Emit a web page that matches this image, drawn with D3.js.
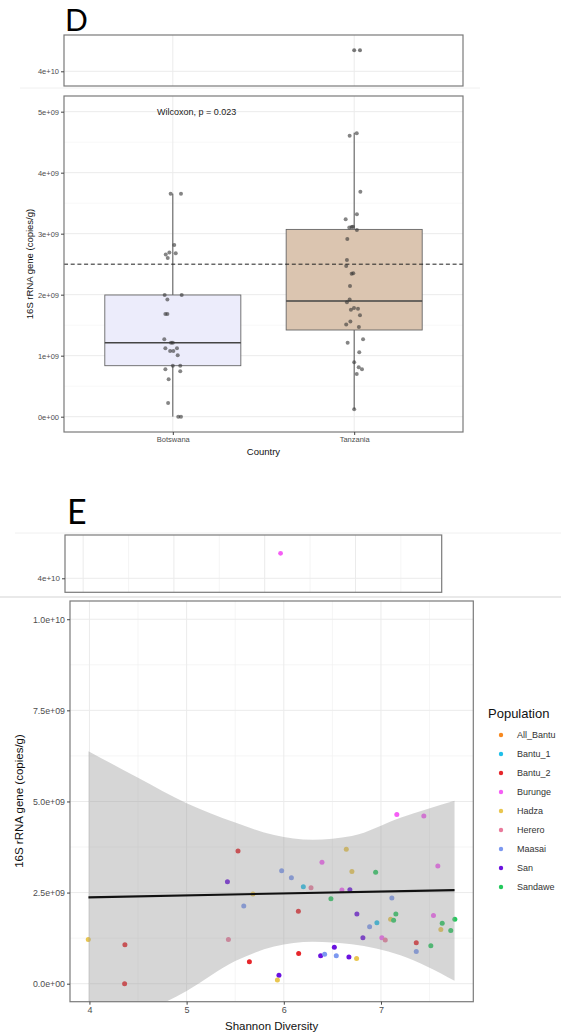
<!DOCTYPE html>
<html>
<head>
<meta charset="utf-8">
<script src="https://cdn.jsdelivr.net/npm/d3@7.9.0/dist/d3.min.js"></script>
<style>
  html, body { margin: 0; padding: 0; background: #fff; }
  svg { display: block; font-family: 'Liberation Sans', Arial, sans-serif; }
</style>
</head>
<body>
<svg id="chart" width="561" height="1034"></svg>
<script>
// ---------- panel D : 16S copies by country ----------
const countries = ['Botswana', 'Tanzania'];
const boxQ1 = [0.836e9, 1.421e9];
const boxMedian = [1.213e9, 1.897e9];
const boxQ3 = [1.995e9, 3.07e9];
const whiskerLow = [0, 0.12e9];
const whiskerHigh = [3.656e9, 4.656e9];
const boxFill = ['#ececfb', '#dbc5b0'];

const botswanaValues = [3.656, 3.656, 2.815, 2.66, 2.69, 2.68, 2.60, 1.995, 1.995, 1.92, 1.684, 1.684,
  1.27, 1.213, 1.213, 1.12, 1.077, 1.077, 1.12, 1.006, 0.836, 0.836, 0.777, 0.744, 0.613, 0.225, 0, 0];
const botswanaJitter = [-0.012, 0.045, 0.008, -0.039, -0.019, 0.016, -0.028, -0.045, 0.049, -0.03, -0.041, -0.03,
  -0.047, -0.01, 0, -0.041, -0.015, 0.003, 0.023, 0.027, 0, 0.041, -0.041, 0.041, -0.023, -0.026, 0.03, 0.045];
const tanzaniaValues = [43.5, 43.5, 4.607, 4.646, 3.689, 3.236, 3.32, 3.1, 3.11, 3.115, 3.06, 2.913, 2.57, 2.47,
  2.345, 2.35, 2.143, 1.92, 1.876, 1.755, 1.78, 1.77, 1.663, 1.56, 1.51, 1.47, 1.27, 1.213, 1.056, 0.892,
  0.81, 0.777, 0.70, 0.12];
const tanzaniaJitter = [0, 0.032, -0.025, 0.014, 0.034, -0.047, 0.015, -0.027, -0.014, -0.007, 0.015, -0.038, -0.04, -0.044,
  -0.014, -0.005, -0.023, -0.025, -0.04, -0.018, -0.001, 0.021, 0.032, -0.021, -0.044, 0.026, 0.049, -0.036, 0.028, 0,
  0.025, 0.043, 0.014, 0];
const thresholdD = 2.5e9;
const dTicks = [0, 1e9, 2e9, 3e9, 4e9, 5e9];
const dMinor = [0.5e9, 1.5e9, 2.5e9, 3.5e9, 4.5e9];
const breakTicks = [4e10];

// ---------- panel E : 16S copies vs Shannon diversity ----------
const populations = ['All_Bantu', 'Bantu_1', 'Bantu_2', 'Burunge', 'Hadza', 'Herero', 'Maasai', 'San', 'Sandawe'];
const popColors = ['#f7891f', '#1fbfe9', '#e6262b', '#f55ef5', '#e9c64f', '#e97a9c', '#7c98f0', '#6b12df', '#23c95c'];

const samplePop = ['Bantu_2', 'San', 'Hadza', 'Maasai', 'Herero', 'Hadza', 'Bantu_2', 'Bantu_2', 'Bantu_2', 'San',
  'Hadza', 'Maasai', 'Burunge', 'Burunge', 'Burunge', 'Hadza', 'Hadza', 'Sandawe', 'Maasai', 'Bantu_1',
  'Herero', 'Burunge', 'San', 'Sandawe', 'Maasai', 'Bantu_2', 'San', 'Sandawe', 'Hadza', 'Sandawe',
  'Burunge', 'Sandawe', 'Sandawe', 'Hadza', 'Sandawe', 'Maasai', 'Bantu_1', 'San', 'Burunge', 'Herero',
  'Bantu_2', 'Sandawe', 'Maasai', 'Bantu_2', 'San', 'San', 'Maasai', 'Maasai', 'San', 'Hadza',
  'Burunge', 'Burunge'];
const shannon = [5.529, 5.42, 5.683, 5.588, 5.43, 3.988, 4.365, 5.646, 4.362, 5.95,
  5.934, 5.978, 7.163, 7.441, 6.393, 6.643, 6.701, 6.945, 6.078, 6.201,
  6.28, 6.598, 6.68, 6.485, 7.112, 6.15, 6.752, 7.153, 7.099, 7.13,
  7.54, 7.76, 7.63, 7.616, 7.718, 6.883, 6.958, 6.814, 7.009, 7.044,
  7.363, 7.513, 7.363, 6.153, 6.52, 6.379, 6.42, 6.54, 6.67, 6.749,
  7.585, 6.175];
const copies = [3.64, 2.80, 2.46, 2.13, 1.21, 1.21, 1.07, 0.60, 0.0, 0.23,
  0.10, 3.10, 4.64, 4.60, 3.33, 3.69, 3.08, 3.06, 2.91, 2.66,
  2.63, 2.57, 2.58, 2.33, 2.35, 1.99, 1.91, 1.91, 1.77, 1.74,
  1.87, 1.77, 1.66, 1.49, 1.46, 1.56, 1.67, 1.26, 1.26, 1.20,
  1.12, 1.04, 0.88, 0.83, 1.0, 0.77, 0.81, 0.77, 0.73, 0.69,
  3.23, 43.5];

// fitted line and its confidence band
const fitX = [3.99, 7.757];
const fitY = [2.37e9, 2.57e9];
const bandX = [3.99, 4.5, 5.0, 5.5, 5.9, 6.3, 6.7, 7.2, 7.757];
const bandUpper = [6.38, 5.65, 4.95, 4.42, 4.08, 3.95, 4.05, 4.55, 5.02];
const bandLower = [-1.64, -0.88, -0.2, 0.62, 1.02, 1.15, 1.08, 0.78, 0.08];

const eYTicks = [0, 2.5e9, 5e9, 7.5e9, 1e10];
const eYMinor = [1.25e9, 3.75e9, 6.25e9, 8.75e9];
const eXTicks = [4, 5, 6, 7];
const eXMinor = [4.5, 5.5, 6.5, 7.5];

// ---------- helpers ----------
const svg = d3.select('#chart');
const sci = (v, digits) => v.toExponential(digits).replace(/e([+-])(\d)$/, 'e$10$2');
const gridColor = '#ebebeb';
const borderColor = '#7a7a7a';
const tickText = '#4d4d4d';

function hLines(g, vals, y, x0, x1, w, col) {
  g.selectAll(null).data(vals).join('line')
    .attr('x1', x0).attr('x2', x1)
    .attr('y1', d => y(d)).attr('y2', d => y(d))
    .attr('stroke', col || gridColor).attr('stroke-width', w);
}
function vLines(g, vals, x, y0, y1, w, col) {
  g.selectAll(null).data(vals).join('line')
    .attr('y1', y0).attr('y2', y1)
    .attr('x1', d => x(d)).attr('x2', d => x(d))
    .attr('stroke', col || gridColor).attr('stroke-width', w);
}
function border(g, x0, y0, x1, y1) {
  g.append('rect').attr('x', x0).attr('y', y0).attr('width', x1 - x0).attr('height', y1 - y0)
    .attr('fill', 'none').attr('stroke', borderColor).attr('stroke-width', 1.2);
}
function leftAxis(g, y, x0, ticks, fmt, size) {
  const ax = g.append('g').attr('transform', `translate(${x0},0)`)
    .call(d3.axisLeft(y).tickValues(ticks).tickFormat(fmt).tickSize(3).tickPadding(2));
  ax.select('.domain').remove();
  ax.selectAll('line').attr('stroke', '#444');
  ax.selectAll('text').attr('fill', tickText).style('font-size', size + 'px')
    .style('font-family', "'Liberation Sans', Arial, sans-serif");
}
function bottomAxis(g, x, y0, ticks, fmt, size) {
  const ax = g.append('g').attr('transform', `translate(0,${y0})`)
    .call(d3.axisBottom(x).tickValues(ticks).tickFormat(fmt).tickSize(3).tickPadding(2));
  ax.select('.domain').remove();
  ax.selectAll('line').attr('stroke', '#444');
  ax.selectAll('text').attr('fill', tickText).style('font-size', size + 'px')
    .style('font-family', "'Liberation Sans', Arial, sans-serif");
}

// faint strips from the composed figure
svg.append('line').attr('x1', 20).attr('x2', 480).attr('y1', 88).attr('y2', 88).attr('stroke', '#f0f0f0');
svg.append('line').attr('x1', 15).attr('x2', 561).attr('y1', 533).attr('y2', 533).attr('stroke', '#f0f0f0');
svg.append('line').attr('x1', 0).attr('x2', 561).attr('y1', 597).attr('y2', 597).attr('stroke', '#e9e9e9').attr('stroke-width', 2);

// ================= PANEL D =================
const dL = 64, dR = 463;
const xD = d3.scaleLinear().domain([0.4, 2.6]).range([dL, dR]);
const catPos = countries.map((c, i) => i + 1);

const ptsD = [];
botswanaValues.forEach((v, i) => ptsD.push({ c: 1 + botswanaJitter[i], v: v * 1e9 }));
tanzaniaValues.forEach((v, i) => ptsD.push({ c: 2 + tanzaniaJitter[i], v: v * 1e9 }));

svg.append('text').attr('x', 65).attr('y', 31).text('D')
  .style('font-family', "Lato, 'Open Sans', sans-serif").style('font-size', '30px');

// top (broken) part
const dTop = { y0: 35, y1: 86 };
const yDTop = d3.scaleLinear().domain([3.755e10, 4.605e10]).range([dTop.y1, dTop.y0]);
const gDT = svg.append('g');
gDT.append('rect').attr('x', dL).attr('y', dTop.y0).attr('width', dR - dL).attr('height', dTop.y1 - dTop.y0).attr('fill', '#fff');
hLines(gDT, breakTicks, yDTop, dL, dR, 1);
vLines(gDT, catPos, xD, dTop.y0, dTop.y1, 1);
gDT.selectAll(null).data(ptsD.filter(d => d.v > 1e10)).join('circle')
  .attr('cx', d => xD(d.c)).attr('cy', d => yDTop(d.v)).attr('r', 2)
  .attr('fill', '#333').attr('fill-opacity', 0.65);
border(gDT, dL, dTop.y0, dR, dTop.y1);
leftAxis(gDT, yDTop, dL, breakTicks, d => sci(d, 0), 7.5);

// main part
const dMain = { y0: 96, y1: 432 };
const yD = d3.scaleLinear().domain([-0.251e9, 5.257e9]).range([dMain.y1, dMain.y0]);
const gD = svg.append('g');
gD.append('rect').attr('x', dL).attr('y', dMain.y0).attr('width', dR - dL).attr('height', dMain.y1 - dMain.y0).attr('fill', '#fff');
hLines(gD, dMinor, yD, dL, dR, 0.6, '#f3f3f3');
hLines(gD, dTicks, yD, dL, dR, 1);
vLines(gD, catPos, xD, dMain.y0, dMain.y1, 1);

const boxHalf = 0.375;
countries.forEach((c, i) => {
  const cx = xD(i + 1);
  gD.append('line').attr('x1', cx).attr('x2', cx).attr('y1', yD(whiskerLow[i])).attr('y2', yD(boxQ1[i]))
    .attr('stroke', '#555').attr('stroke-width', 1);
  gD.append('line').attr('x1', cx).attr('x2', cx).attr('y1', yD(boxQ3[i])).attr('y2', yD(whiskerHigh[i]))
    .attr('stroke', '#555').attr('stroke-width', 1);
  gD.append('rect').attr('x', xD(i + 1 - boxHalf)).attr('width', xD(i + 1 + boxHalf) - xD(i + 1 - boxHalf))
    .attr('y', yD(boxQ3[i])).attr('height', yD(boxQ1[i]) - yD(boxQ3[i]))
    .attr('fill', boxFill[i]).attr('stroke', '#666').attr('stroke-width', 0.9);
  gD.append('line').attr('x1', xD(i + 1 - boxHalf)).attr('x2', xD(i + 1 + boxHalf))
    .attr('y1', yD(boxMedian[i])).attr('y2', yD(boxMedian[i]))
    .attr('stroke', '#444').attr('stroke-width', 1.6);
});

gD.append('line').attr('x1', dL).attr('x2', dR).attr('y1', yD(thresholdD)).attr('y2', yD(thresholdD))
  .attr('stroke', '#222').attr('stroke-width', 1).attr('stroke-dasharray', '4,2.7');

gD.selectAll(null).data(ptsD.filter(d => d.v < 1e10)).join('circle')
  .attr('cx', d => xD(d.c)).attr('cy', d => yD(d.v)).attr('r', 2)
  .attr('fill', '#333').attr('fill-opacity', 0.6);

gD.append('text').attr('x', 157).attr('y', 115).text('Wilcoxon, p = 0.023')
  .attr('fill', '#222').style('font-size', '9px');

border(gD, dL, dMain.y0, dR, dMain.y1);
leftAxis(gD, yD, dL, dTicks, d => sci(d, 0), 7.5);
bottomAxis(gD, xD, dMain.y1, catPos, (d, i) => countries[i], 7.5);

svg.append('text').attr('transform', `translate(33,264) rotate(-90)`).attr('text-anchor', 'middle')
  .text('16S rRNA gene (copies/g)').attr('fill', '#111').style('font-size', '9.5px');
svg.append('text').attr('x', (dL + dR) / 2).attr('y', 455).attr('text-anchor', 'middle')
  .text('Country').attr('fill', '#111').style('font-size', '9.5px');

// ================= PANEL E =================
const colorE = d3.scaleOrdinal().domain(populations).range(popColors);
const ptsE = shannon.map((s, i) => ({ s, v: copies[i] * 1e9, pop: samplePop[i] }));

svg.append('text').attr('x', 67).attr('y', 524).text('E')
  .style('font-family', "Lato, 'Open Sans', sans-serif").style('font-size', '34px');

// top (broken) part
const eTop = { x0: 65, x1: 441.7, y0: 535, y1: 592.3 };
const xETop = d3.scaleLinear().domain([3.8, 7.95]).range([eTop.x0, eTop.x1]);
const yETop = d3.scaleLinear().domain([3.804e10, 4.606e10]).range([eTop.y1, eTop.y0]);
const gET = svg.append('g');
gET.append('rect').attr('x', eTop.x0).attr('y', eTop.y0).attr('width', eTop.x1 - eTop.x0).attr('height', eTop.y1 - eTop.y0).attr('fill', '#fff');
vLines(gET, eXMinor, xETop, eTop.y0, eTop.y1, 0.7, '#f1f1f1');
vLines(gET, eXTicks, xETop, eTop.y0, eTop.y1, 1);
hLines(gET, breakTicks, yETop, eTop.x0, eTop.x1, 1);
gET.selectAll(null).data(ptsE.filter(d => d.v > 1e10)).join('circle')
  .attr('cx', d => xETop(d.s)).attr('cy', d => yETop(d.v)).attr('r', 2.4)
  .attr('fill', d => colorE(d.pop));
border(gET, eTop.x0, eTop.y0, eTop.x1, eTop.y1);
leftAxis(gET, yETop, eTop.x0, breakTicks, d => sci(d, 0), 8);

// main part
const eMain = { x0: 70, x1: 473.3, y0: 601, y1: 1001.7 };
const xE = d3.scaleLinear().domain([3.8, 7.95]).range([eMain.x0, eMain.x1]);
const yE = d3.scaleLinear().domain([-0.494e9, 10.5e9]).range([eMain.y1, eMain.y0]);
const gE = svg.append('g');
gE.append('rect').attr('x', eMain.x0).attr('y', eMain.y0).attr('width', eMain.x1 - eMain.x0).attr('height', eMain.y1 - eMain.y0).attr('fill', '#fff');
hLines(gE, eYMinor, yE, eMain.x0, eMain.x1, 0.7, '#f1f1f1');
vLines(gE, eXMinor, xE, eMain.y0, eMain.y1, 0.7, '#f1f1f1');
hLines(gE, eYTicks, yE, eMain.x0, eMain.x1, 1);
vLines(gE, eXTicks, xE, eMain.y0, eMain.y1, 1);

gE.append('clipPath').attr('id', 'clipE').append('rect')
  .attr('x', eMain.x0).attr('y', eMain.y0).attr('width', eMain.x1 - eMain.x0).attr('height', eMain.y1 - eMain.y0);

gE.selectAll(null).data(ptsE.filter(d => d.v < 1e10)).join('circle')
  .attr('cx', d => xE(d.s)).attr('cy', d => yE(d.v)).attr('r', 2.5)
  .attr('fill', d => colorE(d.pop));

const bandData = bandX.map((x, i) => ({ x, lo: bandLower[i] * 1e9, hi: bandUpper[i] * 1e9 }));
gE.append('path').datum(bandData)
  .attr('clip-path', 'url(#clipE)')
  .attr('d', d3.area().x(d => xE(d.x)).y0(d => yE(d.lo)).y1(d => yE(d.hi)).curve(d3.curveMonotoneX))
  .attr('fill', '#999').attr('fill-opacity', 0.4);

gE.append('path').datum(fitX.map((x, i) => ({ x, y: fitY[i] })))
  .attr('d', d3.line().x(d => xE(d.x)).y(d => yE(d.y)))
  .attr('stroke', '#111').attr('stroke-width', 2.2).attr('fill', 'none');

border(gE, eMain.x0, eMain.y0, eMain.x1, eMain.y1);
leftAxis(gE, yE, eMain.x0, eYTicks, d => sci(d, 1), 8.8);
bottomAxis(gE, xE, eMain.y1, eXTicks, d3.format('d'), 9);

svg.append('text').attr('transform', `translate(23,801) rotate(-90)`).attr('text-anchor', 'middle')
  .text('16S rRNA gene (copies/g)').attr('fill', '#111').style('font-size', '11.5px');
svg.append('text').attr('x', (eMain.x0 + eMain.x1) / 2).attr('y', 1030).attr('text-anchor', 'middle')
  .text('Shannon Diversity').attr('fill', '#111').style('font-size', '11.5px');

// legend
const lg = svg.append('g');
lg.append('text').attr('x', 488).attr('y', 718).text('Population').attr('fill', '#111').style('font-size', '13px');
const items = lg.selectAll(null).data(populations).join('g')
  .attr('transform', (d, i) => `translate(501,${735 + i * 19})`);
items.append('circle').attr('r', 2.2).attr('fill', d => colorE(d));
items.append('text').attr('x', 16).attr('y', 3.2).text(d => d)
  .attr('fill', '#333').style('font-size', '9px');
</script>
</body>
</html>
